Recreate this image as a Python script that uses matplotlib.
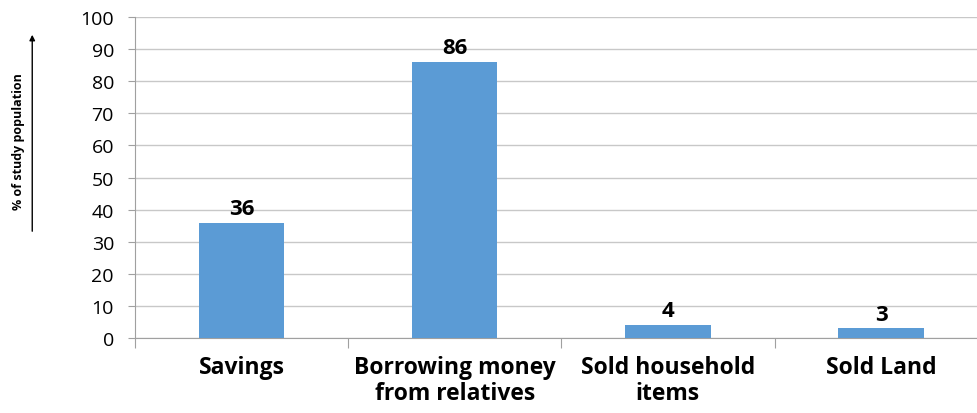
import matplotlib.pyplot as plt
import numpy as np

plt.rcParams['font.family'] = ['Open Sans', 'DejaVu Sans']

categories = ["Savings", "Borrowing money\nfrom relatives", "Sold household\nitems", "Sold Land"]
values = [36, 86, 4, 3]

fig = plt.figure(figsize=(9.77, 4.14), dpi=100)
ax = fig.add_axes([0.138, 0.181, 0.873, 0.7754])

x = np.arange(len(categories))
ax.bar(x, values, width=0.4, color="#5B9BD5", zorder=3)

for xi, v in zip(x, values):
    ax.text(xi, v + 1.2, str(v), ha="center", va="bottom", fontsize=16, fontweight="bold")

ax.set_xlim(-0.5, len(categories) - 0.5)
ax.set_ylim(0, 100)
ax.set_yticks(range(0, 101, 10))
ax.tick_params(axis="y", labelsize=14, length=5, color="#A0A0A0", pad=10)

# category labels sit between boundary ticks
ax.set_xticks(np.arange(-0.5, len(categories), 1))
ax.set_xticklabels([])
ax.tick_params(axis="x", which="major", length=7, color="#A0A0A0")
ax.set_xticks(x, minor=True)
ax.set_xticklabels(categories, minor=True, fontsize=16.5, fontweight="bold", linespacing=1.15)
ax.tick_params(axis="x", which="minor", length=0, pad=12)

ax.grid(axis="y", color="#C8C8C8", linewidth=1, zorder=0)
for s in ["top", "right"]:
    ax.spines[s].set_visible(False)
for s in ["left", "bottom"]:
    ax.spines[s].set_color("#A0A0A0")

fig.text(0.019, 1 - 142 / 414, "% of study population", rotation=90, ha="center", va="center",
         fontsize=9, fontweight="bold")
fig.add_artist(plt.matplotlib.patches.FancyArrowPatch(
    (0.033, 1 - 235 / 414), (0.033, 1 - 33 / 414), transform=fig.transFigure,
    arrowstyle="-|>", mutation_scale=8, color="black", linewidth=1))

fig.savefig("out.png", dpi=100)
